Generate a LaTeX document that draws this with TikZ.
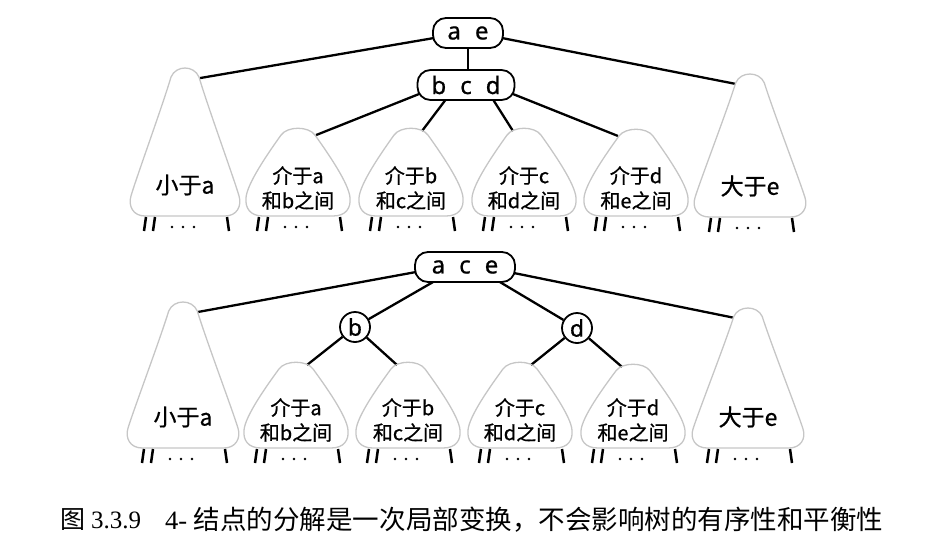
\documentclass[tikz,border=0pt]{standalone}
\usepackage{fontspec}
\setmainfont{Noto Sans CJK SC}
\newfontfamily\cjk{Noto Sans CJK SC}[FakeBold=0.8]
\newfontfamily\latinsans{Noto Sans}[FakeBold=0.8]
\newfontfamily\capserif{Liberation Serif}
\newfontfamily\song{Noto Sans CJK SC}
\usetikzlibrary{calc,backgrounds}
\tikzset{
  triline/.style={draw=gray!45, line width=1.3pt},
  edge/.style={draw=black, line width=2.3pt},
  legline/.style={draw=black, line width=2.5pt},
  keynode/.style={draw=black, line width=1.8pt, rounded corners=13pt, minimum height=30pt, fill=white, inner sep=0pt, font=\latinsans\fontsize{24}{24}\selectfont},
  circnode/.style={draw=black, line width=1.8pt, circle, minimum size=30pt, fill=white, inner sep=0pt, font=\latinsans\fontsize{23}{23}\selectfont},
  biglabel/.style={font=\cjk\fontsize{23}{23}\selectfont, inner sep=0pt},
  smalllabel/.style={font=\cjk\fontsize{20}{25}\selectfont, align=center, inner sep=0pt},
  pics/legs/.style={code={
    \draw[legline] (-39,1) -- (-41,15);
    \draw[legline] (-30,1) -- (-32,15);
    \draw[legline] (42,1) -- (44,15);
    \fill (-13,11) circle (1.4pt);
    \fill (-2,11) circle (1.4pt);
    \fill (9,11) circle (1.4pt);
  }},
  pics/bigtri/.style n args={3}{code={
    \begin{scope}[xscale=#1/108, yscale=#2/147]
      \draw[triline] (-40,0) -- (40,0) .. controls (52,0) and (57,-10) .. (54,-20)
        .. controls (48,-40) and (23,-108) .. (14,-138)
        .. controls (9,-150) and (-9,-150) .. (-14,-138)
        .. controls (-23,-108) and (-48,-40) .. (-54,-20)
        .. controls (-57,-10) and (-52,0) .. (-40,0) -- cycle;
      \coordinate (-R) at (15,-137);
      \coordinate (-L) at (-15,-137);
    \end{scope}
    \node[biglabel] (-t) at (0,-31) {#3};
    \pic {legs};
  }},
  pics/smalltri/.style n args={3}{code={
    \begin{scope}[xscale=#1/103, yscale=#2/87]
      \draw[triline] (-35,0) -- (35,0) .. controls (48,0) and (53,-8) .. (52,-18)
        .. controls (51,-32) and (30,-62) .. (17,-80)
        .. controls (10.5,-89) and (-10.5,-89) .. (-17,-80)
        .. controls (-30,-62) and (-51,-32) .. (-52,-18)
        .. controls (-53,-8) and (-48,0) .. (-35,0) -- cycle;
      \coordinate (-R) at (18,-80);
      \coordinate (-L) at (-18,-80);
      \coordinate (-tr) at (11,-84);
      \coordinate (-tl) at (-11,-84);
    \end{scope}
    \node[smalllabel] (-t) at (0,-28) {#3};
    \pic {legs};
  }}
}
\begin{document}
\begin{tikzpicture}[x=1pt,y=-1pt]
\useasboundingbox (0,0) rectangle (942,552);

% ---------- top tree ----------
\node[keynode, minimum width=70pt] (ae) at (468,33) {a\hspace{14pt}e};
\node[keynode, minimum width=97pt] (bcd) at (466,85) {b\hspace{14pt}c\hspace{14pt}d};

\pic (A1) at (185,216) {bigtri={108}{148}{小于a}};
\pic (A2) at (298,216) {smalltri={103}{88}{介于a\\和b之间}};
\pic (A3) at (411,216) {smalltri={103}{88}{介于b\\和c之间}};
\pic (A4) at (524,216) {smalltri={103}{88}{介于c\\和d之间}};
\pic (A5) at (636,216) {smalltri={103}{87}{介于d\\和e之间}};
\pic (A6) at (750,217) {bigtri={110}{143}{大于e}};

\begin{scope}[on background layer]
  \draw[edge] ($(ae.west)+(2,5)$) -- (A1-R);
  \draw[edge] ($(ae.east)+(-2,5)$) -- (A6-L);
  \draw[edge] (ae.south) -- (ae.south |- bcd.north);
  \draw[edge] ($(bcd.west)+(5,8)$) -- (A2-R);
  \draw[edge] ($(bcd.south)+(-19,-3)$) -- (A3-tr);
  \draw[edge] ($(bcd.south)+(26,-3)$) -- (A4-tl);
  \draw[edge] ($(bcd.east)+(-5,8)$) -- (A5-L);
\end{scope}

% ---------- bottom tree ----------
\node[keynode, minimum width=100pt] (ace) at (465,267) {a\hspace{14pt}c\hspace{14pt}e};
\node[circnode] (b) at (355,327) {b};
\node[circnode] (d) at (577,328) {d};

\pic (B1) at (183,448) {bigtri={110}{146}{小于a}};
\pic (B2) at (296,448) {smalltri={103}{86}{介于a\\和b之间}};
\pic (B3) at (408,448) {smalltri={103}{86}{介于b\\和c之间}};
\pic (B4) at (520,448) {smalltri={103}{86}{介于c\\和d之间}};
\pic (B5) at (633,448) {smalltri={103}{84}{介于d\\和e之间}};
\pic (B6) at (748,448) {bigtri={110}{140}{大于e}};

\begin{scope}[on background layer]
  \draw[edge] ($(ace.west)+(2,5)$) -- (B1-R);
  \draw[edge] ($(ace.east)+(-2,6)$) -- (B6-L);
  \draw[edge] ($(ace.south)+(-30,-2)$) -- (b);
  \draw[edge] ($(ace.south)+(33,-2)$) -- (d);
  \draw[edge] (b) -- (B2-tr);
  \draw[edge] (b) -- (B3-tl);
  \draw[edge] (d) -- (B4-tr);
  \draw[edge] (d) -- (B5-tl);
\end{scope}

% ---------- caption ----------
\node[anchor=west, inner sep=0pt] (cap1) at (60,520) {\song\fontsize{25}{25}\selectfont 图\hspace{6pt}\capserif 3.3.9};
\node[anchor=west, inner sep=0pt] (cap2) at (165,520) {\resizebox{718pt}{!}{\fontsize{26}{26}\selectfont\capserif 4-\ \song 结点的分解是一次局部变换，不会影响树的有序性和平衡性}};
\end{tikzpicture}
\end{document}
